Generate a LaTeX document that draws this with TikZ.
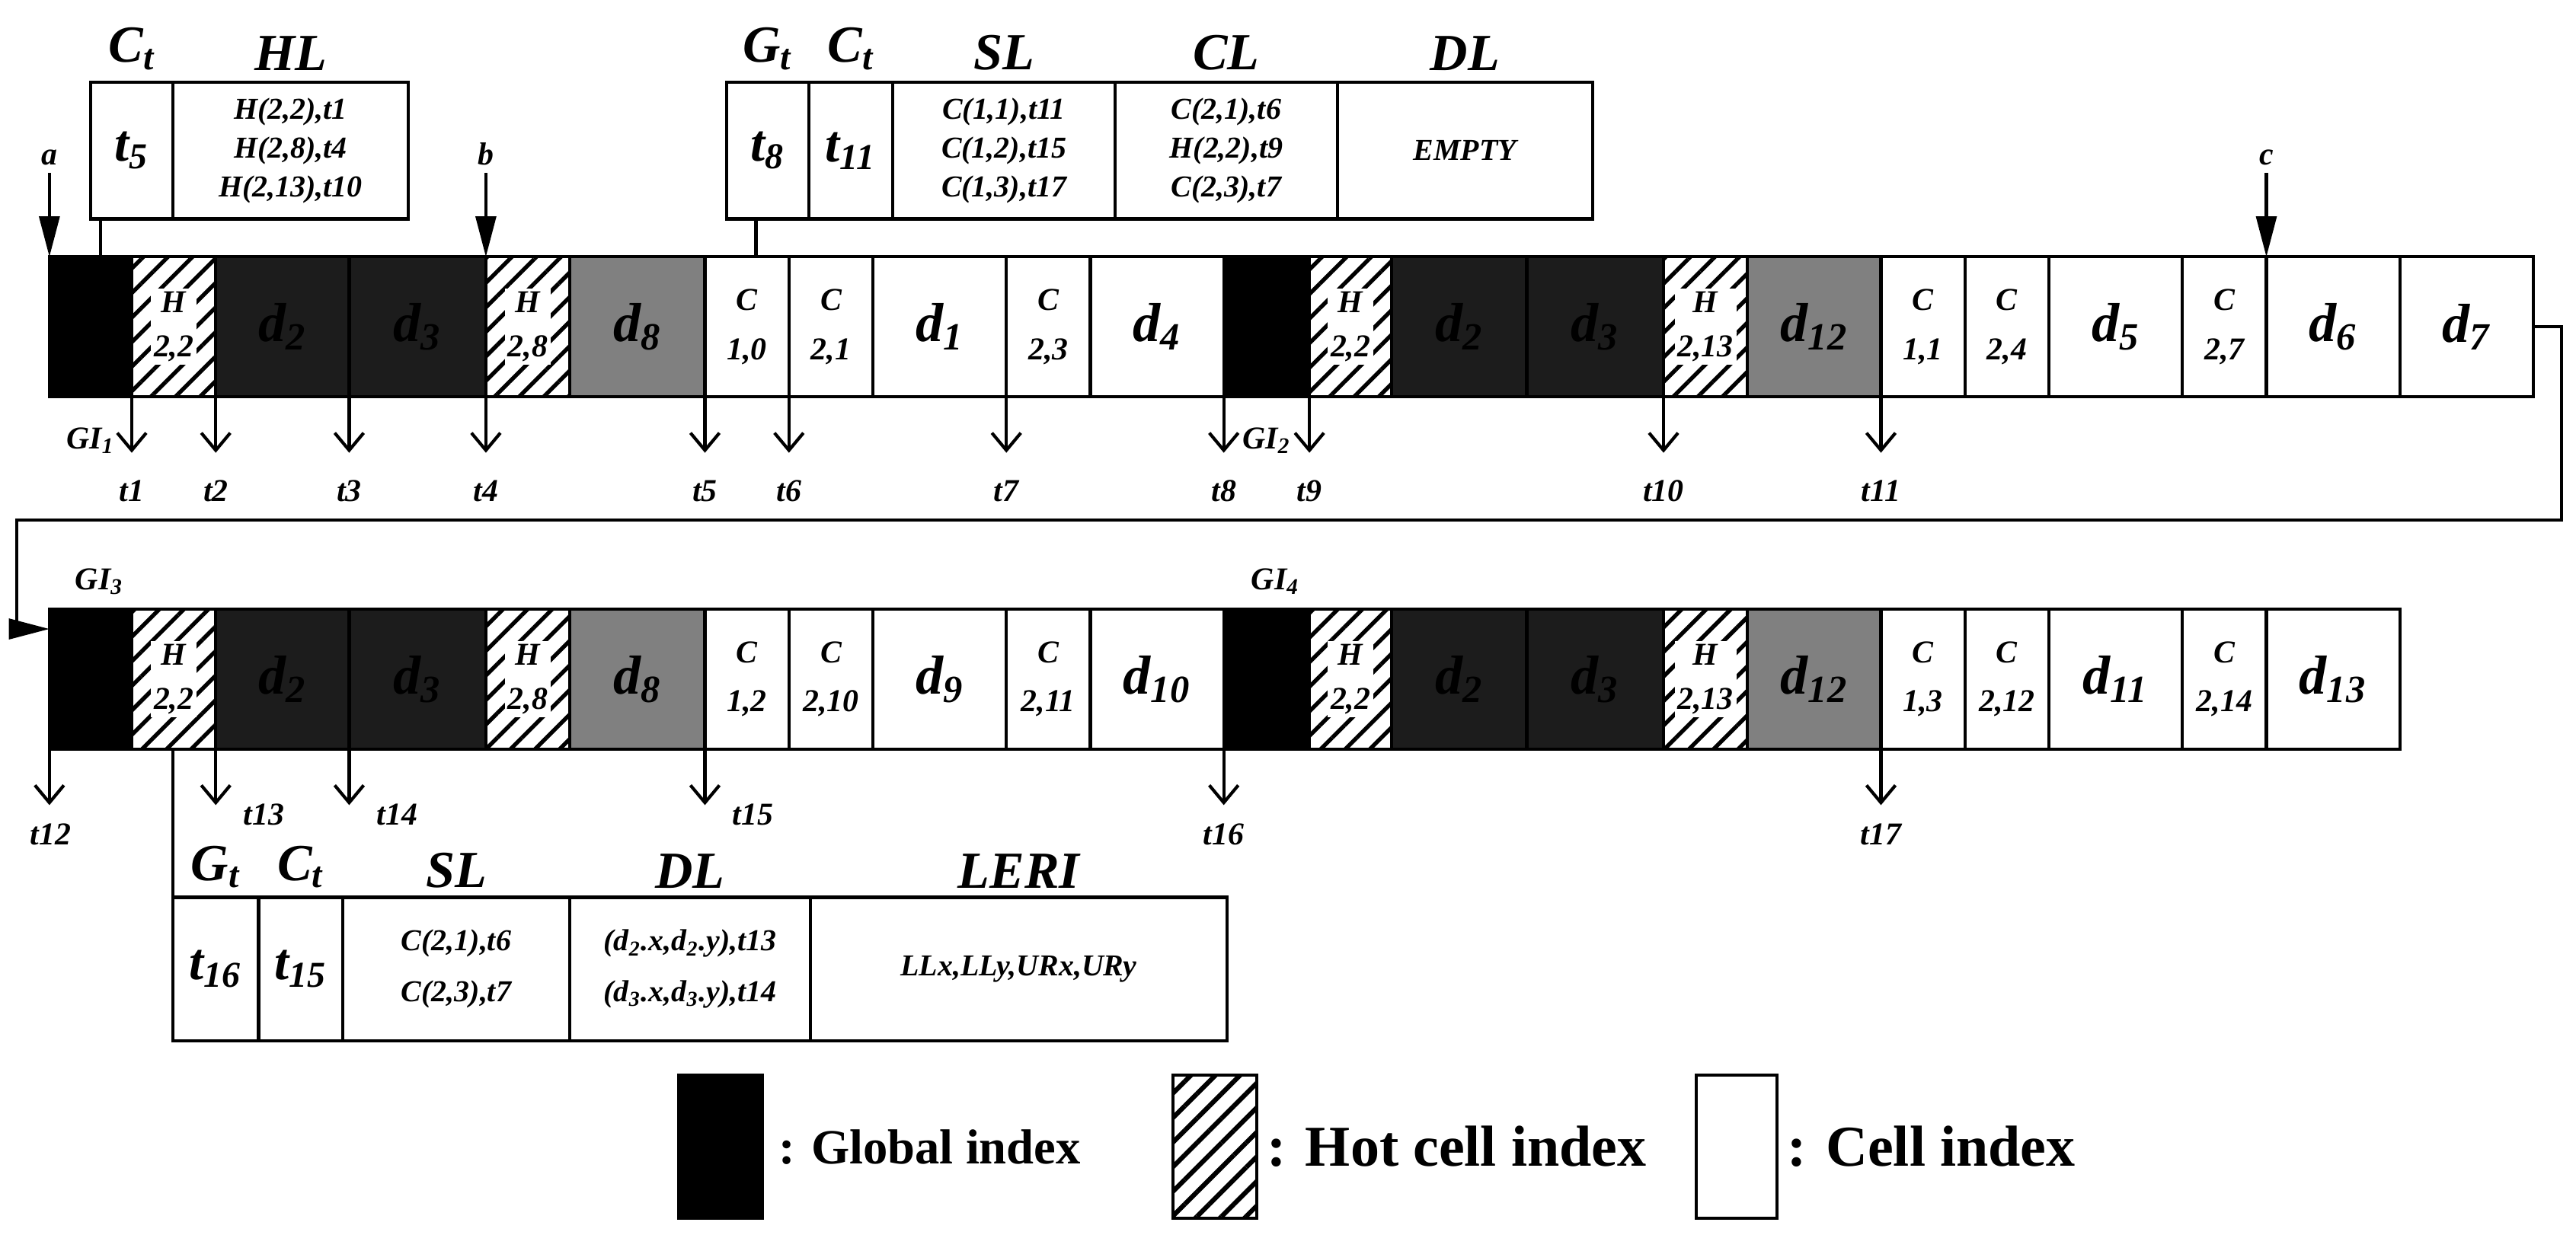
\documentclass[tikz,border=0pt]{standalone}
\usepackage{fontspec}
\setmainfont{Liberation Serif}
\usetikzlibrary{positioning,arrows.meta,patterns.meta}
\newcommand\sbs[1]{\textsubscript{#1}}
\newcommand\hotlab[2]{{\setlength\fboxsep{1pt}\colorbox{white}{\shortstack{#1\\[5pt]#2}}}}
\tikzset{
  cellbox/.style={draw, line width=1.1pt, inner sep=0pt, outer sep=0pt, align=center, minimum height=1.7cm},
  gidx/.style={fill=black},
  hotc/.style={pattern={Lines[angle=45,distance=6pt,line width=1.4pt]}, font=\fontsize{11}{16}\selectfont\bfseries\itshape},
  dark/.style={fill=black!89, font=\fontsize{19}{21}\selectfont\bfseries\itshape},
  midc/.style={fill=black!50, font=\fontsize{19}{21}\selectfont\bfseries\itshape},
  bigc/.style={fill=white, font=\fontsize{19}{21}\selectfont\bfseries\itshape},
  smlc/.style={fill=white, font=\fontsize{11}{17}\selectfont\bfseries\itshape},
  tbox/.style={draw, line width=1.1pt, inner sep=0pt, outer sep=0pt, align=center, font=\fontsize{10.5}{13.5}\selectfont\bfseries\itshape},
  tbig/.style={font=\fontsize{18}{20}\selectfont\bfseries\itshape},
  hd/.style={font=\fontsize{18}{20}\selectfont\bfseries\itshape, inner sep=1pt},
  tarr/.style={line width=1.1pt, -{Straight Barb[length=6pt,width=10pt,line width=1.1pt]}},
  parr/.style={line width=1.1pt, -{Triangle[length=14pt,width=7pt]}},
  tlab/.style={font=\fontsize{11}{12}\selectfont\bfseries\itshape, inner sep=2pt},
  legt/.style={font=\fontsize{17}{19}\selectfont\bfseries, anchor=west}
}
\begin{document}
\begin{tikzpicture}[x=0.02cm, y=-0.02cm]
\useasboundingbox (0,0) rectangle (1564,750);
% first row of the index
\foreach \xa/\xb/\sty/\txt [count=\i] in {30/80/gidx/{}, 80/131/hotc/{\hotlab{H}{2,2}}, 131/212/dark/{d\sbs2}, 212/295/dark/{d\sbs3},
    295/346/hotc/{\hotlab{H}{2,8}}, 346/428/midc/{d\sbs8}, 428/479/smlc/{C\\1,0}, 479/530/smlc/{C\\2,1}, 530/611/bigc/{d\sbs1},
    611/662/smlc/{C\\2,3}, 662/743/bigc/{d\sbs4}, 743/795/gidx/{}, 795/845/hotc/{\hotlab{H}{2,2}}, 845/927/dark/{d\sbs2},
    927/1010/dark/{d\sbs3}, 1010/1061/hotc/{\hotlab{H}{2,13}}, 1061/1142/midc/{d\sbs{12}}, 1142/1193/smlc/{C\\1,1},
    1193/1244/smlc/{C\\2,4}, 1244/1325/bigc/{d\sbs5}, 1325/1376/smlc/{C\\2,7}, 1376/1457/bigc/{d\sbs6}, 1457/1538/bigc/{d\sbs7}}
  \node[cellbox, \sty, minimum width={(\xb-\xa)*0.02cm}] (r1-\i) at ({(\xa+\xb)/2}, 198.5) {\txt};
% second row of the index
\foreach \xa/\xb/\sty/\txt [count=\i] in {30/80/gidx/{}, 80/131/hotc/{\hotlab{H}{2,2}}, 131/212/dark/{d\sbs2}, 212/295/dark/{d\sbs3},
    295/346/hotc/{\hotlab{H}{2,8}}, 346/428/midc/{d\sbs8}, 428/479/smlc/{C\\1,2}, 479/530/smlc/{C\\2,10}, 530/611/bigc/{d\sbs9},
    611/662/smlc/{C\\2,11}, 662/743/bigc/{d\sbs{10}}, 743/795/gidx/{}, 795/845/hotc/{\hotlab{H}{2,2}}, 845/927/dark/{d\sbs2},
    927/1010/dark/{d\sbs3}, 1010/1061/hotc/{\hotlab{H}{2,13}}, 1061/1142/midc/{d\sbs{12}}, 1142/1193/smlc/{C\\1,3},
    1193/1244/smlc/{C\\2,12}, 1244/1325/bigc/{d\sbs{11}}, 1325/1376/smlc/{C\\2,14}, 1376/1457/bigc/{d\sbs{13}}}
  \node[cellbox, \sty, minimum width={(\xb-\xa)*0.02cm}] (r2-\i) at ({(\xa+\xb)/2}, 412.5) {\txt};
% header boxes
\foreach \xa/\xb/\sty/\txt [count=\i] in {55/105/tbig/{t\sbs5}, 105/248/{}/{H(2,2),t1\\H(2,8),t4\\H(2,13),t10}}
  \node[tbox, \sty, minimum width={(\xb-\xa)*0.02cm}, minimum height=1.66cm] (hb\i) at ({(\xa+\xb)/2}, 91.5) {\txt};
\foreach \xa/\xb/\sty/\txt [count=\i] in {441/491/tbig/{t\sbs8}, 491/542/tbig/{t\sbs{11}},
    542/677/{}/{C(1,1),t11\\C(1,2),t15\\C(1,3),t17}, 677/812/{}/{C(2,1),t6\\H(2,2),t9\\C(2,3),t7}, 812/967/{}/{EMPTY}}
  \node[tbox, \sty, minimum width={(\xb-\xa)*0.02cm}, minimum height=1.66cm] (gb\i) at ({(\xa+\xb)/2}, 91.5) {\txt};
\foreach \xa/\xb/\sty/\txt [count=\i] in {105/157/tbig/{t\sbs{16}}, 157/208/tbig/{t\sbs{15}},
    208/346/{}/{C(2,1),t6\\[4pt]C(2,3),t7}, 346/492/{}/{(d\sbs2.x,d\sbs2.y),t13\\[4pt](d\sbs3.x,d\sbs3.y),t14}, 492/745/{}/{LLx,LLy,URx,URy}}
  \node[tbox, \sty, minimum width={(\xb-\xa)*0.02cm}, minimum height=1.74cm] (lb\i) at ({(\xa+\xb)/2}, 588.5) {\txt};
\node[hd, above=3pt of hb1] {C\sbs{t}};
\node[hd, above=3pt of hb2] {HL};
\node[hd, above=3pt of gb1] {G\sbs{t}};
\node[hd, above=3pt of gb2] {C\sbs{t}};
\node[hd, above=3pt of gb3] {SL};
\node[hd, above=3pt of gb4] {CL};
\node[hd, above=3pt of gb5] {DL};
\node[hd, above=2pt of lb1] {G\sbs{t}};
\node[hd, above=2pt of lb2] {C\sbs{t}};
\node[hd, above=2pt of lb3] {SL};
\node[hd, above=2pt of lb4] {DL};
\node[hd, above=2pt of lb5] {LERI};
\draw[line width=1.1pt] ([xshift=0.12cm]hb1.south west) -- ([xshift=0.12cm]hb1.south west |- r1-1.north);
\draw[line width=1.1pt] ([xshift=0.36cm]gb1.south west) -- ([xshift=0.36cm]gb1.south west |- r1-1.north);
\draw[line width=1.1pt] (lb1.north west) -- (lb1.north west |- r2-1.south);
% pointers a, b, c
\draw[parr] ([yshift=1.02cm]r1-1.north west) node[tlab, above] {a} -- (r1-1.north west);
\draw[parr] ([yshift=1.02cm]r1-5.north west) node[tlab, above] {b} -- (r1-5.north west);
\draw[parr] ([yshift=1.02cm]r1-22.north west) node[tlab, above] {c} -- (r1-22.north west);
% time arrows
\foreach \c/\t in {2/1,3/2,4/3,5/4,7/5,8/6,10/7,12/8,13/9,16/10,18/11}
  \draw[tarr] (r1-\c.south west) -- ++(0,34) node[tlab, below=7pt] {t\t};
\draw[tarr] (r2-1.south west) -- ++(0,34) node[tlab, below left=4pt and -10pt] {t12};
\foreach \c/\t in {3/13,4/14,7/15}
  \draw[tarr] (r2-\c.south west) -- ++(0,34) node[tlab, anchor=north west, xshift=7pt, yshift=3pt] {t\t};
\foreach \c/\t in {12/16,18/17}
  \draw[tarr] (r2-\c.south west) -- ++(0,34) node[tlab, below=4pt] {t\t};
\node[tlab, below=0.3cm of r1-1] {GI\sbs1};
\node[tlab, below=0.3cm of r1-12] {GI\sbs2};
\node[tlab, above=0.1cm of r2-1, xshift=3pt] {GI\sbs3};
\node[tlab, above=0.1cm of r2-12, xshift=3pt] {GI\sbs4};
% wrap to the second row
\draw[parr] (r1-23.east) -- ++(17,0) |- (10,316) |- ([yshift=-0.24cm]r2-1.north west);
% legend
\node[cellbox, gidx, minimum width=1.02cm, minimum height=1.74cm] (lg1) at (437.5,696.5) {};
\node[legt, right=2pt of lg1] {: Global index};
\node[cellbox, pattern={Lines[angle=45,distance=6pt,line width=1.6pt]}, minimum width=1.02cm, minimum height=1.74cm] (lg2) at (737.5,696.5) {};
\node[legt, right=0pt of lg2, font=\fontsize{20}{22}\selectfont\bfseries] {: Hot cell index};
\node[cellbox, fill=white, minimum width=0.98cm, minimum height=1.74cm] (lg3) at (1054.5,696.5) {};
\node[legt, right=0pt of lg3, font=\fontsize{20}{22}\selectfont\bfseries] {: Cell index};
\end{tikzpicture}
\end{document}
